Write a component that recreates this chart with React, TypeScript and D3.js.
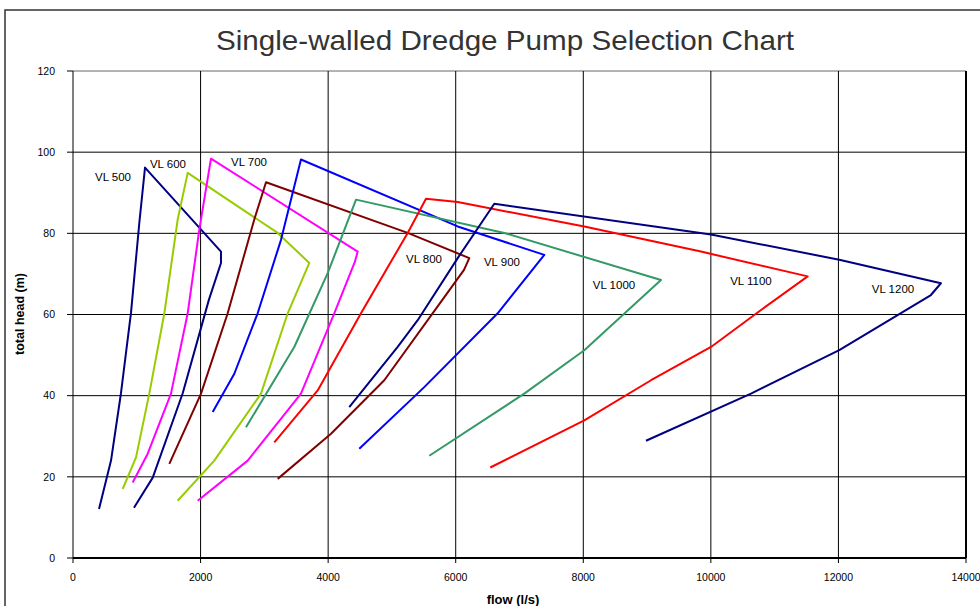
import * as d3 from "d3";

// pump names, in drawing order
const pumpNames = ["VL 500", "VL 600", "VL 700", "VL 800", "VL 900", "VL 1000", "VL 1100", "VL 1200"];

// each curve: left leg up to the peak, top edge to the right corner, then back down-left
const vl500Flow = [408, 596, 752, 909, 1040, 1129, 2320, 2320, 2130, 1720, 1250, 956];
const vl500Head = [12.1, 24, 40.6, 60.4, 82.6, 96.2, 75.5, 72.7, 63.6, 40.6, 19.8, 12.4];

const vl600Flow = [779, 988, 1196, 1432, 1641, 1798, 3209, 3705, 3366, 2947, 2215, 1641];
const vl600Head = [17, 24.8, 40.5, 60.3, 83.4, 94.9, 80.1, 72.7, 60.3, 40.5, 24, 14.1];

const vl700Flow = [936, 1171, 1536, 1798, 1980, 2163, 4463, 4420, 4096, 3574, 2739, 1955];
const vl700Head = [18.6, 25.7, 40.5, 60.3, 80.9, 98.4, 75.5, 73, 60.3, 40.5, 24, 14.1];

const vl800Flow = [1510, 2007, 2425, 2842, 3026, 5247, 6213, 6130, 5717, 4880, 4045, 3209];
const vl800Head = [23.2, 40.5, 60.3, 83.4, 92.6, 80.1, 73.9, 71, 62, 43.8, 30.6, 19.5];

const vl900Flow = [2190, 2529, 2895, 3261, 3574, 6031, 7389, 6658, 5507, 4488];
const vl900Head = [36, 45.4, 60.3, 78.4, 98.2, 81.7, 74.7, 60.3, 42.1, 26.9];

const vl1000Flow = [2712, 3469, 3993, 4437, 6762, 9218, 8016, 7075, 5586];
const vl1000Head = [32.2, 52, 70.2, 88.3, 80.1, 68.5, 51.2, 40.5, 25.2];

const vl1100Flow = [3156, 3836, 4515, 5247, 5534, 6031, 8016, 9845, 11518, 10786, 10002, 9062, 8016, 6542];
const vl1100Head = [28.5, 41.3, 60.3, 80.1, 88.5, 87.7, 81.7, 75.5, 69.4, 61.1, 52, 43.8, 33.9, 22.3];

const vl1200Flow = [4331, 5090, 5404, 6031, 6605, 10002, 12013, 13607, 13450, 12013, 10629, 8983];
const vl1200Head = [37.2, 52, 58.6, 73.9, 87.3, 79.7, 73.5, 67.7, 64.8, 51.2, 40.5, 28.9];

// where each pump's name sits (flow, head)
const labelFlow = [627, 1489, 2759, 5503, 6725, 8481, 10629, 12855];
const labelHead = [94.0, 97.2, 97.7, 73.7, 73.0, 67.3, 68.3, 66.3];

const xTicks = [0, 2000, 4000, 6000, 8000, 10000, 12000, 14000];
const yTicks = [0, 20, 40, 60, 80, 100, 120];

const pumpColors = ["#000080", "#99cc00", "#ff00ff", "#800000", "#0000ff", "#339966", "#ff0000", "#000080"];

const flows = [vl500Flow, vl600Flow, vl700Flow, vl800Flow, vl900Flow, vl1000Flow, vl1100Flow, vl1200Flow];
const heads = [vl500Head, vl600Head, vl700Head, vl800Head, vl900Head, vl1000Head, vl1100Head, vl1200Head];

const font = "'Liberation Sans', Arial, sans-serif";

export default function App() {
  const width = 980;
  const height = 606;
  const plot = { left: 73, right: 966, top: 71, bottom: 558 };

  const x = d3.scaleLinear().domain([0, 14000]).range([plot.left, plot.right]);
  const y = d3.scaleLinear().domain([0, 120]).range([plot.bottom, plot.top]);

  const line = d3
    .line<[number, number]>()
    .x((d) => x(d[0]))
    .y((d) => y(d[1]));

  const series = pumpNames.map((name, i) => ({
    name,
    color: pumpColors[i],
    points: flows[i].map((f, j) => [f, heads[i][j]] as [number, number]),
    label: [labelFlow[i], labelHead[i]],
  }));

  return (
    <svg
      width={width}
      height={height}
      style={{ position: "absolute", left: 0, top: 0, background: "#fff" }}
      fontFamily={font}
    >
      <rect x={0} y={0} width={width} height={height} fill="#fff" />
      {/* chart frame, runs past the page edge */}
      <rect x={5} y={10} width={1100} height={800} fill="none" stroke="#333" strokeWidth={1.5} />

      <text
        x={505}
        y={50}
        textAnchor="middle"
        fontSize={28}
        fill="#333"
        textLength={578}
        lengthAdjust="spacingAndGlyphs"
      >
        Single-walled Dredge Pump Selection Chart
      </text>

      {/* gridlines */}
      {yTicks.slice(1).map((t) => (
        <line key={"gy" + t} x1={plot.left} x2={plot.right} y1={y(t)} y2={y(t)} stroke={t === 120 ? "#666" : "#000"} strokeWidth={1} />
      ))}
      {xTicks.slice(1).map((t) => (
        <line key={"gx" + t} x1={x(t)} x2={x(t)} y1={plot.top} y2={plot.bottom} stroke="#000" strokeWidth={t === 14000 ? 2 : 1} />
      ))}

      {/* axes */}
      <line x1={plot.left} x2={plot.left} y1={plot.top} y2={plot.bottom} stroke="#000" strokeWidth={1} />
      <line x1={plot.left} x2={plot.right} y1={plot.bottom} y2={plot.bottom} stroke="#000" strokeWidth={2} />

      {yTicks.map((t) => (
        <g key={"ty" + t}>
          <line x1={plot.left - 6} x2={plot.left} y1={y(t)} y2={y(t)} stroke="#000" />
          <text x={55} y={y(t)} dy="0.35em" textAnchor="end" fontSize={10.5} fill="#000">
            {t}
          </text>
        </g>
      ))}
      {xTicks.map((t) => (
        <g key={"tx" + t}>
          <line x1={x(t)} x2={x(t)} y1={plot.bottom} y2={plot.bottom + 5} stroke="#000" />
          <text x={x(t)} y={577} dy="0.35em" textAnchor="middle" fontSize={10.5} fill="#000">
            {t}
          </text>
        </g>
      ))}

      <text
        transform={`translate(24, 314) rotate(-90)`}
        textAnchor="middle"
        fontSize={12.5}
        fontWeight={700}
        fill="#000"
      >
        total head (m)
      </text>
      <text x={513} y={604} textAnchor="middle" fontSize={13} fontWeight={700} fill="#000">
        flow (l/s)
      </text>

      {/* pump curves */}
      {series.map((s) => (
        <path
          key={s.name}
          d={line(s.points) ?? ""}
          fill="none"
          stroke={s.color}
          strokeWidth={2}
          strokeLinejoin="round"
        />
      ))}

      {series.map((s) => (
        <text
          key={"l" + s.name}
          x={x(s.label[0])}
          y={y(s.label[1])}
          dy="0.35em"
          textAnchor="middle"
          fontSize={11.5}
          fill="#000"
        >
          {s.name}
        </text>
      ))}
    </svg>
  );
}
